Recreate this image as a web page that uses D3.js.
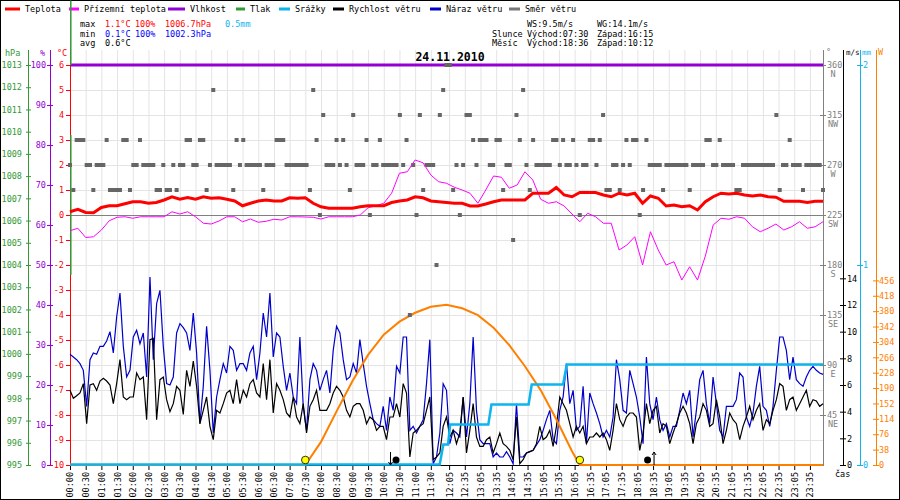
<!DOCTYPE html>
<html>
<head>
<meta charset="utf-8">
<script src="https://cdn.jsdelivr.net/npm/d3@7"></script>
<style>
body { margin: 0; background: #fff; }
svg text { font-family: "DejaVu Sans Mono", monospace; font-size: 8.5px; }
</style>
</head>
<body>
<div id="chart"></div>
<script>
// ---- data ----
var dayTitle = "24.11.2010";

// x axis tick labels (the data logger switches from :00/:30 to :05/:35 after noon)
var timeLabels = ["00:00","00:30","01:00","01:30","02:00","02:30","03:00","03:30","04:00","04:30",
  "05:00","05:30","06:00","06:30","07:00","07:30","08:00","08:30","09:00","09:30","10:00","10:30",
  "11:00","11:30","12:05","12:35","13:05","13:35","14:05","14:35","15:05","15:35","16:05","16:35",
  "17:05","17:35","18:05","18:35","19:05","19:35","20:05","20:35","21:05","21:35","22:05","22:35",
  "23:05","23:35"];

// temperature and ground (apparent) temperature, every 15 minutes 00:00 .. 24:00, °C
var teplota = [0.13,0.23,0.1,0.09,0.3,0.37,0.37,0.45,0.53,0.53,0.47,0.5,0.6,0.73,0.63,0.7,0.63,0.73,0.67,0.69,
  0.63,0.56,0.37,0.47,0.56,0.6,0.56,0.56,0.69,0.67,0.69,0.47,0.33,0.27,0.27,0.27,0.27,0.33,0.37,0.37,
  0.37,0.5,0.56,0.6,0.73,0.69,0.56,0.53,0.5,
  0.47,0.47,0.36,0.36,0.44,0.53,0.6,0.6,0.6,0.6,0.87,0.87,0.87,1.1,0.8,0.73,0.9,0.9,0.9,0.8,
  0.73,0.87,0.8,0.87,0.47,0.76,0.67,0.36,0.4,0.33,0.37,0.2,0.53,0.73,0.87,0.84,0.87,0.8,0.76,0.8,
  0.73,0.71,0.55,0.55,0.55,0.5,0.55,0.55];
var prizemni = [-0.63,-0.53,-0.9,-0.87,-0.6,-0.23,-0.09,-0.07,-0.13,-0.07,-0.07,-0.07,-0.07,0.13,0.04,0.13,
  -0.07,-0.33,-0.36,-0.24,-0.07,-0.07,-0.27,-0.16,-0.29,-0.25,-0.17,-0.2,-0.07,-0.07,-0.08,-0.09,-0.16,
  -0.07,-0.07,-0.07,-0.07,0.0,0.29,0.37,0.47,0.87,1.67,1.73,2.2,2.09,1.6,1.33,1.27,
  1.11,1.0,0.87,0.47,1.0,1.56,1.51,1.07,1.2,1.73,1.4,0.63,0.47,0.53,0.36,0.04,-0.27,0.07,-0.07,-0.33,
  -0.33,-1.4,-1.2,-0.87,-2.0,-0.67,-1.4,-2.0,-1.87,-2.6,-2.07,-2.6,-1.64,-0.4,-0.13,-0.17,-0.07,-0.13,
  -0.47,-0.67,-0.53,-0.36,-0.6,-0.47,-0.27,-0.53,-0.47,-0.27];

// humidity, hourly, %
var vlhkost = [100,100,100,100,100,100,100,100,100,100,100,100,100,100,100,100,100,100,100,100,100,100,100,100,100];

// pressure trace as the logger drew it: stacked on the first sample, hPa (null = gap)
var tlak = [1015.9,1013,null,1009.85,1003.55];

// cumulative precipitation, mm
var srazkyTimes = ["00:00","11:47","11:54","12:03","12:07","13:20","13:26","14:37","14:43","15:43","15:50","24:00"];
var srazky = [0,0,0.1,0.1,0.2,0.2,0.3,0.3,0.4,0.4,0.5,0.5];

// solar radiation, W/m2
var slunceTimes = ["00:00","07:30","08:00","08:30","09:00","09:30","10:00","10:30","11:00","11:30","12:00",
  "12:30","13:00","13:30","14:00","14:30","15:00","15:30","16:00","16:15","24:00"];
var slunce = [0,0,57,133,207,272,322,354,376,391,396,387,370,339,296,244,185,113,34,0,0];

// wind, evenly sampled over the whole day (227 samples), m/s
var naraz = [8.3,8.1,7.9,7.6,7.1,4.4,7.9,8.4,8.3,8.9, 8.9,9.3,10.0,8.4,11.1,12.9,8.9,6.6,7.1,9.6,
  10.1,9.1,9.9,6.6,14.1,7.9,12.1,13.1,8.9,6.1, 6.0,6.6,9.9,10.6,10.3,9.9,8.6,11.4,8.4,3.1,
  5.9,10.4,7.1,2.4,5.1,6.4,7.6,6.9,8.9,8.6, 7.1,7.6,7.6,7.1,8.4,8.9,6.4,8.4,11.4,9.6,
  12.9,8.1,9.9,9.6,7.4,5.6,6.9,5.1,4.6,9.6, 4.4,2.6,6.4,7.6,7.1,5.6,6.4,7.1,5.4,8.6,
  10.4,9.9,7.9,6.4,6.6,7.6,6.9,9.4,7.6,5.9, 4.6,3.4,3.1,2.9,4.4,2.6,5.1,4.1,7.4,6.9,
  9.6,9.6,2.6,2.9,2.4,2.9,3.4,6.1,9.4,0.1, 0.6,
  2.4,6.1,5.6,1.6,2.6,2.4,2.1,5.1,2.1,4.6, 9.6,4.1,1.9,1.6,1.6,1.6,0.6,0.9,0.6,0.6,
  1.0,0.6,0.1,4.6,0.6,0.6,0.9,1.0,1.1,1.5, 1.9,2.6,3.4,4.1,1.9,1.6,4.1,5.1,7.6,4.6,
  5.6,2.6,2.9,5.9,1.6,5.4,4.6,3.9,3.1,2.1, 2.6,2.1,3.6,7.9,6.4,4.1,3.9,7.1,6.1,5.1,
  3.6,1.6,8.1,4.6,3.4,5.1,3.4,2.6,3.1,2.1, 2.9,2.9,4.1,5.4,4.6,5.6,2.1,4.1,6.4,7.1,
  4.6,3.1,6.6,4.6,2.6,2.1,4.4,4.4,4.4,4.9, 6.9,6.6,3.6,2.9,3.9,5.9,7.4,4.4,4.1,2.9,
  4.4,7.1,9.6,9.6,8.6,6.4,8.1,6.4,6.1,5.9, 6.6,7.1,7.4,7.1,6.9,6.8];
var rychlost = [5.6,5.0,5.2,5.4,6.1,3.1,6.0,6.1,5.6,6.3, 6.5,6.3,6.0,4.6,6.1,7.9,5.1,4.9,5.1,5.1,
  6.9,6.4,6.6,3.4,9.4,9.5,3.4,6.4,6.6,4.9, 4.0,4.6,5.9,5.6,3.8,7.1,5.9,7.8,5.9,3.1,
  4.1,5.1,2.9,1.9,4.1,3.9,4.6,5.4,5.6,4.6, 6.4,4.6,5.6,5.1,6.1,6.4,5.4,5.1,7.6,4.9,
  7.9,3.9,6.1,5.6,4.9,3.9,3.6,5.1,3.6,3.1, 4.6,2.4,4.4,4.9,5.6,4.1,4.1,4.1,4.6,5.4,
  5.9,5.6,5.1,4.1,3.6,4.4,4.6,4.6,4.1,3.1, 3.6,3.4,2.6,2.9,2.9,1.9,3.6,3.6,4.6,3.6,
  6.1,5.4,0.6,2.4,2.6,2.9,3.1,4.1,5.1,0.4, 0.6,
  0.9,2.9,3.6,2.1,2.6,1.6,2.4,5.1,0.9,2.6, 4.6,2.1,1.4,1.4,1.9,2.1,0.9,1.6,2.4,1.6,
  1.4,1.1,0.4,3.6,0.1,0.4,0.9,1.0,1.1,1.6, 2.9,1.9,2.1,2.6,1.4,2.9,5.1,4.6,4.1,3.1,
  2.1,2.9,2.4,2.9,1.6,2.1,2.1,2.4,2.1,2.4, 1.9,1.1,2.6,4.6,3.4,2.9,3.6,3.9,3.9,3.6,
  1.1,2.4,4.6,3.1,4.1,4.4,2.4,3.1,2.9,1.6, 2.4,3.1,3.9,4.4,3.9,3.1,1.6,3.1,3.6,4.6,
  4.1,2.9,3.1,4.9,3.6,1.6,2.6,3.9,3.4,3.1, 1.9,2.9,3.6,4.4,3.4,4.1,4.6,2.6,3.4,3.1,
  4.1,4.9,6.1,5.9,4.1,4.9,5.1,4.1,4.6,5.1, 5.6,4.4,4.9,4.8,4.4,4.6];
// wind direction, same samples, degrees
var smer = [270,247.5,292.5,292.5,292.5,270,270,247.5,270,270, 270,292.5,247.5,247.5,247.5,247.5,292.5,292.5,247.5,270,
  270,292.5,270,270,270,270,247.5,247.5,270,247.5, 247.5,270,247.5,270,270,292.5,292.5,270,270,292.5,
  292.5,247.5,270,337.5,270,270,270,270,270,247.5, 292.5,270,292.5,270,270,270,270,270,247.5,270,
  270,270,292.5,292.5,292.5,270,270,270,270,270, 270,270,247.5,337.5,292.5,225,315,270,270,270,
  292.5,270,292.5,270,247.5,315,270,270,270,292.5, 225,270,270,292.5,270,270,270,270,270,315,
  270,292.5,135,270,225,315,247.5,270,270,270, 180,315,337.5,360,360,247.5,270,225,270,315,
  315,292.5,270,292.5,292.5,292.5,270,270,292.5,292.5, 247.5,270,270,202.5,315,292.5,337.5,270,247.5,292.5,
  270,270,270,270,270,292.5,292.5,270,292.5,270, 270,292.5,270,225,270,270,292.5,292.5,270,292.5,
  315,247.5,247.5,270,270,247.5,270,292.5,270,292.5, 292.5,225,247.5,292.5,270,270,270,270,247.5,270,
  270,270,270,270,270,270,247.5,270,270,270, 270,292.5,292.5,270,270,292.5,270,270,270,270,
  247.5,247.5,270,270,270,270,270,270,270,270, 270,270,315,247.5,270,270,292.5,270,270,270,
  247.5,270,270,270,270,270,247.5];

// sun and moon events
var sunEvents = ["07:30","16:15"];
var moonSet = "10:12", moonRise = "18:36";

// tick values of the value axes
var hpaTicks = d3.range(995, 1014);
var humTicks = d3.range(0, 101, 10);
var tempTicks = d3.range(-10, 7);
var dirTicks = [45,90,135,180,225,270,315,360];
var dirNames = ["NE","E","SE","S","SW","W","NW","N"];
var windTicks = d3.range(0, 15, 2);
var rainTicks = [0,1,2];
var sunTicks = d3.range(0, 457, 38);

// legend texts
var legendNames = ["Teplota","Přízemní teplota","Vlhkost","Tlak","Srážky","Rychlost větru","Náraz větru","Směr větru"];

// ---- drawing ----
var cRed = "#ff0000", cMag = "#ff00ff", cPurple = "#9400d3", cGreen = "#339933",
    cCyan = "#0db4ee", cBlack = "#000000", cBlue = "#0000cc", cGray = "#666666", cOrange = "#ff8000";

function hrs(t) { var p = t.split(":"); return +p[0] + (+p[1]) / 60; }

var svg = d3.select("#chart").append("svg").attr("width", 900).attr("height", 500);
svg.append("rect").attr("x", 0.5).attr("y", 0.5).attr("width", 899).attr("height", 499)
  .attr("fill", "#fff").attr("stroke", "#000");

var x = d3.scaleLinear().domain([0, 24]).range([70, 823]);
var yT = d3.scaleLinear().domain([-10, 6]).range([465, 65]);
var yHum = d3.scaleLinear().domain([0, 100]).range([465, 65]);
var yP = d3.scaleLinear().domain([995, 1013]).range([465, 65]);
var yDir = d3.scaleLinear().domain([0, 360]).range([465, 65]);
var yWind = d3.scaleLinear().domain([0, 30]).range([465, 65]);
var yRain = d3.scaleLinear().domain([0, 2]).range([465, 65]);
var ySun = d3.scaleLinear().domain([0, 988]).range([465, 65]);

var labelHours = timeLabels.map(hrs);

// 1. grid
svg.append("g").selectAll("line").data(labelHours).enter().append("line")
  .attr("x1", d => x(d) + 0.5).attr("x2", d => x(d) + 0.5).attr("y1", 50).attr("y2", 465)
  .attr("stroke", "#e4e4e4");
svg.append("g").selectAll("line").data(tempTicks.slice(1, -1)).enter().append("line")
  .attr("x1", 70).attr("x2", 823).attr("y1", d => yT(d) + 0.5).attr("y2", d => yT(d) + 0.5)
  .attr("stroke", "#e4e4e4");

// 2. legend + header
var legendColors = [cRed, cMag, cPurple, cGreen, cCyan, cBlack, cBlue, "#777"];
var legendDash = [5, 69, 168, 236, 279, 333, 430, 509];
var legendText = [25, 84, 190, 250, 295, 349, 446, 525];
legendNames.forEach(function (n, i) {
  svg.append("rect").attr("x", legendDash[i]).attr("y", 7.5).attr("width", legendText[i] - legendDash[i] - 5)
    .attr("height", 3).attr("fill", legendColors[i]);
  svg.append("text").attr("x", legendText[i]).attr("y", 12).text(n);
});
function txt(tx, ty, s, col) { return svg.append("text").attr("x", tx).attr("y", ty).attr("fill", col || "#000").text(s); }
txt(80, 27, "max"); txt(105, 27, "1.1°C", cRed); txt(135, 27, "100%", cRed); txt(165, 27, "1006.7hPa", cRed); txt(225, 27, "0.5mm", cCyan);
txt(80, 37, "min"); txt(105, 37, "0.1°C", "#0000ff"); txt(135, 37, "100%", "#0000ff"); txt(165, 37, "1002.3hPa", "#0000ff");
txt(80, 46, "avg"); txt(105, 46, "0.6°C");
txt(527, 27, "WS:9.5m/s"); txt(597, 27, "WG:14.1m/s");
txt(492, 37, "Slunce"); txt(527, 37, "Východ:07:30"); txt(597, 37, "Západ:16:15");
txt(492, 46, "Měsíc"); txt(527, 46, "Východ:18:36"); txt(597, 46, "Západ:10:12");
svg.append("text").attr("x", 450).attr("y", 61).attr("text-anchor", "middle")
  .style("font-size", "11.5px").style("font-weight", "bold").text(dayTitle);

// 3. value axes
function vAxis(axis, xPos, col, lo, hi) {
  var g = svg.append("g").attr("transform", "translate(" + xPos + ",0)").call(axis);
  g.select(".domain").remove();
  g.selectAll(".tick line").attr("stroke", col).attr("x1", lo).attr("x2", hi);
  g.selectAll(".tick text").attr("fill", col).style("font-size", "8.5px").style("font-family", "DejaVu Sans Mono");
  svg.append("line").attr("x1", xPos + 0.5).attr("x2", xPos + 0.5).attr("y1", 50).attr("y2", 466).attr("stroke", col);
  return g;
}
vAxis(d3.axisLeft(yP).tickValues(hpaTicks).tickSize(0).tickPadding(6).tickFormat(d => String(d)), 28, cGreen, -2, 3);
vAxis(d3.axisLeft(yHum).tickValues(humTicks).tickSize(0).tickPadding(4).tickFormat(d => String(d)), 50, cPurple, -3, 3);
vAxis(d3.axisLeft(yT).tickValues(tempTicks).tickSize(0).tickPadding(6).tickFormat(d => String(d)), 70, cRed, -4, 0);
var gd = vAxis(d3.axisRight(yDir).tickValues(dirTicks).tickSize(0).tickPadding(4).tickFormat(d => String(d)), 823, "#808080", -3, 3);
gd.selectAll(".tick").append("text").attr("x", 10).attr("y", 9).attr("dy", "0.32em")
  .attr("text-anchor", "middle").attr("fill", "#808080").style("font-size", "8.5px")
  .text((d, i) => dirNames[i]);
vAxis(d3.axisRight(yWind).tickValues(windTicks).tickSize(0).tickPadding(4).tickFormat(d => String(d)), 843, cBlack, -3, 3);
vAxis(d3.axisRight(yRain).tickValues(rainTicks).tickSize(0).tickPadding(3).tickFormat(d => String(d)), 860, cCyan, -3, 3);
vAxis(d3.axisRight(ySun).tickValues(sunTicks).tickSize(0).tickPadding(3).tickFormat(d => String(d)), 876, cOrange, -3, 3);
txt(5, 56, "hPa", cGreen); txt(40, 56, "%", cPurple); txt(57, 56, "°C", cRed);
txt(826, 55, "°", "#808080");
txt(846, 55, "m/s").style("font-size", "7.5px");
txt(862, 55, "mm", cCyan).style("font-size", "7.5px");
txt(878, 55, "W", cOrange);
txt(835, 477, "čas");

// 4. time axis
var gx = svg.append("g").attr("transform", "translate(0,465)")
  .call(d3.axisBottom(x).tickValues(labelHours).tickSize(5).tickFormat((d, i) => timeLabels[i]));
gx.select(".domain").attr("d", "M70,0.5H823");
gx.selectAll(".tick text").attr("transform", "rotate(-90)").attr("text-anchor", "end")
  .attr("x", -7).attr("y", 0).attr("dy", "0.35em").style("font-size", "8.5px")
  .style("font-family", "DejaVu Sans Mono");

// 5. series
var windHour = (d, i) => i * 24 / (naraz.length - 1);
var windLine = d3.line().x((d, i) => x(windHour(d, i))).y(d => yWind(d));
svg.append("path").datum(naraz).attr("fill", "none").attr("stroke", cBlue).attr("stroke-width", 1.2)
  .attr("d", windLine);
svg.append("path").datum(rychlost).attr("fill", "none").attr("stroke", cBlack).attr("stroke-width", 1.2)
  .attr("d", windLine);
svg.append("path").datum(slunce).attr("fill", "none").attr("stroke", cOrange).attr("stroke-width", 2)
  .attr("d", d3.line().x((d, i) => x(hrs(slunceTimes[i]))).y(d => ySun(d)));
svg.append("path").datum(srazky).attr("fill", "none").attr("stroke", cCyan).attr("stroke-width", 2.5)
  .attr("d", d3.line().x((d, i) => x(hrs(srazkyTimes[i]))).y(d => yRain(d) - 0.5));
svg.append("line").attr("x1", 70).attr("x2", 823).attr("y1", yT(0) + 0.5).attr("y2", yT(0) + 0.5)
  .attr("stroke", "#808080");
svg.append("path").datum(vlhkost).attr("fill", "none").attr("stroke", cPurple).attr("stroke-width", 3)
  .attr("d", d3.line().x((d, i) => x(i)).y(d => yHum(d)));
svg.append("path").datum(tlak).attr("fill", "none").attr("stroke", cGreen).attr("stroke-width", 1.5)
  .attr("d", d3.line().defined(d => d !== null).x(() => x(0) + 0.8).y(d => yP(d)));
svg.append("g").selectAll("rect").data(smer).enter().append("rect")
  .attr("x", (d, i) => x(windHour(d, i)) - 2).attr("y", d => yDir(d) - 2)
  .attr("width", 4).attr("height", 4).attr("fill", cGray);
svg.append("path").datum(prizemni).attr("fill", "none").attr("stroke", cMag).attr("stroke-width", 1)
  .attr("d", d3.line().x((d, i) => x(i * 0.25)).y(d => yT(d)));
svg.append("path").datum(teplota).attr("fill", "none").attr("stroke", cRed).attr("stroke-width", 3)
  .attr("d", d3.line().x((d, i) => x(i * 0.25)).y(d => yT(d)));

// 6. sun and moon markers
svg.append("g").selectAll("circle").data(sunEvents).enter().append("circle")
  .attr("cx", d => x(hrs(d))).attr("cy", 460).attr("r", 3.8)
  .attr("fill", "#ffff00").attr("stroke", "#000").attr("stroke-width", 0.8);
var ms = x(hrs(moonSet)), mr = x(hrs(moonRise));
svg.append("circle").attr("cx", ms + 6).attr("cy", 460).attr("r", 3.5).attr("fill", "#000");
svg.append("circle").attr("cx", mr - 6).attr("cy", 460).attr("r", 3.5).attr("fill", "#000");
svg.append("path").attr("fill", "none").attr("stroke", "#000")
  .attr("d", "M" + (ms + 0.5) + ",452V465M" + (ms - 1.5) + ",462L" + (ms + 0.5) + ",465L" + (ms + 2.5) + ",462");
svg.append("path").attr("fill", "none").attr("stroke", "#000")
  .attr("d", "M" + (mr + 0.5) + ",452V465M" + (mr - 1.5) + ",455L" + (mr + 0.5) + ",452L" + (mr + 2.5) + ",455");
</script>
</body>
</html>
